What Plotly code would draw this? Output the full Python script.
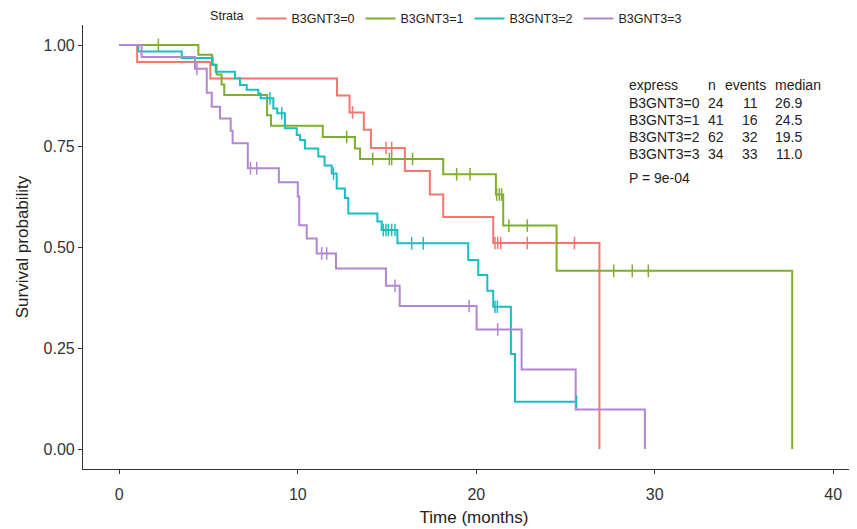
import plotly.graph_objects as go

# ---- data ----
groups = ["B3GNT3=0", "B3GNT3=1", "B3GNT3=2", "B3GNT3=3"]
colors = ["#F4776D", "#7FAE2A", "#18BEC4", "#B286D0"]

t0 = [0, 1.0, 5.1, 12.2, 12.9, 13.7, 14.1, 16.0, 17.4, 18.15, 20.95, 26.9]
s0 = [1, 0.958, 0.917, 0.875, 0.833, 0.790, 0.745, 0.688, 0.630, 0.574, 0.510, 0]
c0 = [13.07, 14.94, 15.26, 21.05, 21.2, 21.37, 22.86, 25.5]

t1 = [0, 4.43, 5.2, 5.45, 5.73, 5.88, 8.28, 8.5, 11.4, 13.2, 13.49, 18.15, 21.1, 21.51, 24.5, 37.7]
s1 = [1, 0.976, 0.951, 0.927, 0.902, 0.876, 0.826, 0.800, 0.772, 0.744, 0.718, 0.680, 0.630, 0.553, 0.441, 0]
c1 = [2.19, 12.74, 14.2, 15.13, 15.26, 16.43, 18.9, 19.65, 21.14, 21.29, 21.42, 21.83, 22.86, 27.7, 28.74, 29.64]

t2 = [0, 1.07, 3.5, 5.23, 5.4, 6.48, 6.76, 7.14, 7.79, 7.92, 8.63, 8.85, 9.28, 9.94, 10.12, 10.4,
      11.15, 11.5, 11.9, 12.18, 12.64, 12.83, 14.46, 14.7, 15.58, 19.55, 20.11, 20.62, 20.95,
      21.94, 22.17, 25.62]
s2 = [1, 0.984, 0.968, 0.951, 0.934, 0.918, 0.901, 0.889, 0.880, 0.868, 0.843, 0.831, 0.794, 0.777,
      0.765, 0.744, 0.724, 0.702, 0.682, 0.645, 0.621, 0.583, 0.563, 0.542, 0.509, 0.468, 0.431,
      0.392, 0.352, 0.235, 0.117, 0.117]
c2 = [8.44, 9.1, 12.0, 14.79, 14.94, 15.07, 15.26, 15.45, 16.38, 17.03, 21.05, 21.18, 25.62]

t3 = [0, 1.25, 4.24, 4.9, 5.18, 5.64, 6.24, 6.35, 7.2, 8.94, 10.0, 10.08, 10.5, 11.06, 12.14,
      14.94, 15.71, 20.02, 22.54, 25.57, 29.45]
s3 = [1, 0.970, 0.941, 0.882, 0.847, 0.818, 0.788, 0.757, 0.695, 0.660, 0.625, 0.554, 0.521,
      0.484, 0.447, 0.404, 0.354, 0.296, 0.197, 0.098, 0]
c3 = [4.35, 7.35, 7.7, 11.34, 11.62, 15.45, 19.6, 21.2]

table_header = ["express", "n", "events", "median"]
table_n = ["24", "41", "62", "34"]
table_events = ["11", "16", "32", "33"]
table_median = ["26.9", "24.5", "19.5", "11.0"]
p_text = "P = 9e-04"

x_ticks = [0, 10, 20, 30, 40]
y_ticks = [0, 0.25, 0.5, 0.75, 1.0]

times = [t0, t1, t2, t3]
survs = [s0, s1, s2, s3]
cens = [c0, c1, c2, c3]


def step_value(ts, ss, x):
    v = ss[0]
    for t, s in zip(ts, ss):
        if t <= x:
            v = s
    return v


FONT = "Liberation Sans, Arial, sans-serif"
fig = go.Figure()
for g, col, ts, ss, cs in zip(groups, colors, times, survs, cens):
    fig.add_trace(go.Scatter(x=ts, y=ss, mode="lines", line=dict(color=col, width=2, shape="hv"),
                             name=g, showlegend=True))
for g, col, ts, ss, cs in zip(groups, colors, times, survs, cens):
    fig.add_trace(go.Scatter(x=cs, y=[step_value(ts, ss, c) for c in cs], mode="markers",
                             marker=dict(symbol="line-ns", size=9, line=dict(color=col, width=1.5)),
                             showlegend=False, hoverinfo="skip"))

# risk table annotations
row_y = [0.901, 0.856, 0.814, 0.772, 0.730]
TF = dict(family=FONT, size=14, color="#222")
ann = []
ann.append(dict(x=28.45, y=row_y[0], text=table_header[0], xanchor="left"))
ann.append(dict(x=33.2, y=row_y[0], text=table_header[1], xanchor="center"))
ann.append(dict(x=35.1, y=row_y[0], text=table_header[2], xanchor="center"))
ann.append(dict(x=38.0, y=row_y[0], text=table_header[3], xanchor="center"))
for i, g in enumerate(groups):
    y = row_y[i + 1]
    ann.append(dict(x=28.45, y=y, text=g, xanchor="left"))
    ann.append(dict(x=33.45, y=y, text=table_n[i], xanchor="center"))
    ann.append(dict(x=35.35, y=y, text=table_events[i], xanchor="center"))
    ann.append(dict(x=37.5, y=y, text=table_median[i], xanchor="center"))
ann.append(dict(x=28.45, y=0.671, text=p_text, xanchor="left"))
for a in ann:
    a.update(xref="x", yref="y", showarrow=False, yanchor="middle", font=TF)

fig.update_layout(
    width=857, height=529,
    margin=dict(l=75, r=0, t=17, b=68, autoexpand=False),
    plot_bgcolor="white", paper_bgcolor="white",
    font=dict(family=FONT, color="#222"),
    annotations=ann,
    showlegend=True,
    legend=dict(orientation="h", x=0.16, xanchor="left", y=1.014, yanchor="middle",
                title=dict(text="Strata", side="left", font=dict(size=12.5, family=FONT)),
                font=dict(size=12.5, family=FONT), bgcolor="rgba(0,0,0,0)",
                itemwidth=30, tracegroupgap=0, entrywidth=64, entrywidthmode="pixels"),
    xaxis=dict(range=[-2.034, 41.78], tickvals=x_ticks, ticktext=[str(v) for v in x_ticks],
               automargin=False,
               showgrid=False, zeroline=False, showline=True, linecolor="#333", linewidth=1.2,
               ticks="outside", ticklen=4, tickcolor="#333", ticklabelstandoff=7,
               tickfont=dict(size=16, family=FONT, color="#333"),
               title=dict(text="Time (months)", font=dict(size=17, family=FONT, color="#222"), standoff=8)),
    yaxis=dict(range=[-0.0495, 1.0495], tickvals=y_ticks, ticktext=["%.2f" % v for v in y_ticks],
               automargin=False,
               showgrid=False, zeroline=False, showline=True, linecolor="#333", linewidth=1.2,
               ticks="outside", ticklen=4, tickcolor="#333",
               tickfont=dict(size=16, family=FONT, color="#333"),
               title=dict(text="Survival probability", font=dict(size=17, family=FONT, color="#222"), standoff=10)),
)
fig.write_html("out.html")
